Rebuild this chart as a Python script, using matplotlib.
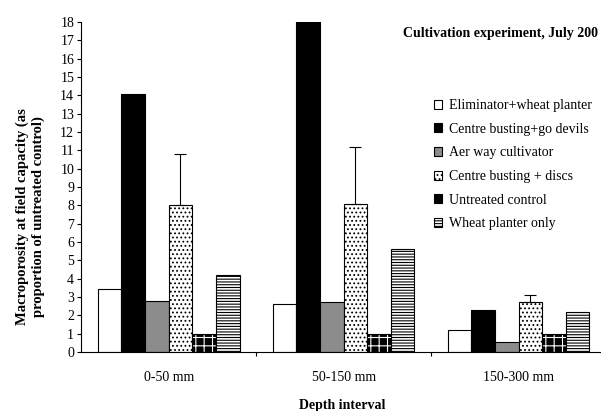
import numpy as np
import matplotlib
matplotlib.use("Agg")
from matplotlib import pyplot as plt
from matplotlib.patches import Patch

plt.rcParams['font.family'] = ['Liberation Serif', 'DejaVu Serif']
plt.rcParams['hatch.linewidth'] = 0.8

depths = ['0-50 mm', '50-150 mm', '150-300 mm']
treatments = ['Eliminator+wheat planter', 'Centre busting+go devils', 'Aer way cultivator',
              'Centre busting + discs', 'Untreated control', 'Wheat planter only']

eliminator = [3.45, 2.6, 1.2]
go_devils = [14.1, 18.3, 2.3]
aer_way = [2.8, 2.75, 0.55]
discs = [8.0, 8.1, 2.7]
discs_err = [2.8, 3.1, 0.4]
untreated = [1.0, 1.0, 1.0]
planter_only = [4.2, 5.6, 2.2]

series = [eliminator, go_devils, aer_way, discs, untreated, planter_only]
faces = ['white', 'black', '#8c8c8c', 'white', 'black', 'white']
hatches = [None, None, None, '....', '++', '------']
hatch_cols = ['black', 'black', 'black', 'black', 'white', 'black']

fig = plt.figure(figsize=(6.01, 4.11), dpi=100)
ax = fig.add_axes([0.135, 0.1436, 0.8735, 0.8028])

x = np.arange(len(depths)) + 0.5
w = 0.135
for i, vals in enumerate(series):
    pos = x + (i - 2.5) * w
    err = None
    if i == 3:
        err = [np.zeros(3), discs_err]
    ax.bar(pos, vals, w, color=faces[i], edgecolor=hatch_cols[i], hatch=hatches[i],
           linewidth=0, yerr=err,
           error_kw=dict(ecolor='black', elinewidth=0.8, capsize=4, capthick=0.8))
    # outline on top of the hatch
    ax.bar(pos, vals, w, fill=False, edgecolor='black', linewidth=0.8)

ax.set_xlim(0, 3)
ax.set_ylim(0, 18)
ax.set_yticks(range(0, 19))
ax.set_xticks(x)
ax.set_xticklabels(depths, fontsize=10)
ax.set_xticks([1, 2], minor=True)
ax.tick_params(axis='x', which='major', length=0, pad=14)
ax.tick_params(axis='x', which='minor', length=3, width=0.8)
ax.tick_params(axis='y', length=3, width=0.8, labelsize=10, pad=2)
for s in ['top', 'right']:
    ax.spines[s].set_visible(False)
ax.spines['left'].set_linewidth(0.8)
ax.spines['bottom'].set_linewidth(0.8)

fig.text(30 / 601, 1 - 217 / 411,
         'Macroporosity at field capacity (as\nproportion of untreated control)',
         fontsize=10.5, fontweight='bold', rotation=90, ha='center', va='center',
         multialignment='center')
fig.text(0.569, 1 - 405 / 411, 'Depth interval', fontsize=10, fontweight='bold',
         ha='center', va='center')
fig.text(0.995, 1 - 33 / 411, 'Cultivation experiment, July 200', fontsize=10,
         fontweight='bold', ha='right', va='center')

handles = []
for i in range(6):
    handles.append(Patch(facecolor=faces[i], edgecolor='black', hatch=hatches[i],
                         linewidth=0.8))
fig.legend(handles, treatments, loc='upper left', bbox_to_anchor=(434 / 601, 1 - 99 / 411),
           frameon=False, fontsize=10, handlelength=0.6, handleheight=0.6,
           handletextpad=0.45, labelspacing=0.77, borderpad=0, borderaxespad=0)

fig.savefig('out.png', dpi=100)
